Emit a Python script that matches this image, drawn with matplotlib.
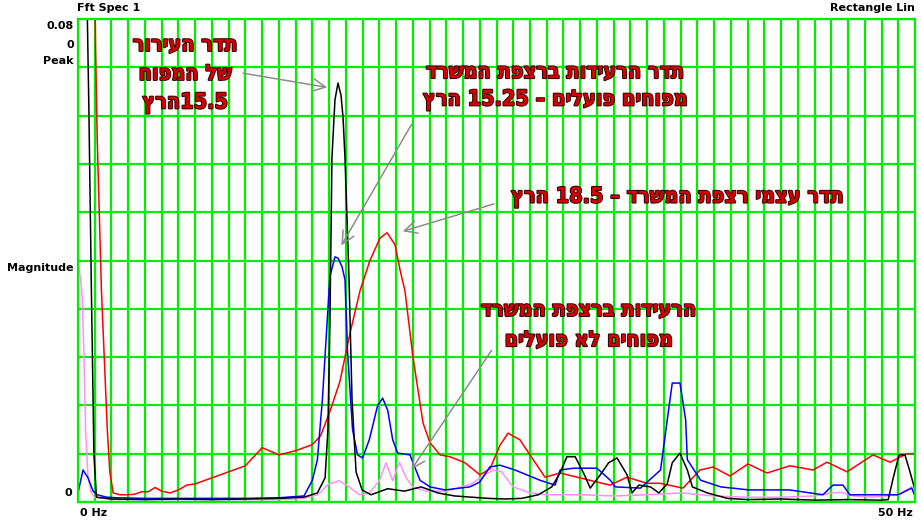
import re
import matplotlib
matplotlib.use("Agg")
import matplotlib.pyplot as plt
import matplotlib.patheffects as pe

# --- data (frequency in Hz, magnitude) ---
black_f = [0, 0.3, 0.5, 0.65, 0.8, 0.95, 1.1, 2, 4, 6, 8, 10, 12, 13.5, 14.3, 14.76, 14.93, 15.05,
           15.17, 15.35, 15.53, 15.71, 15.83, 15.95, 16.07, 16.19, 16.37, 16.61, 16.97, 17.5, 18.5,
           19.5, 20.5, 21.5, 22.5, 23.5, 24.5, 25.5, 26.5, 27.5, 28.3, 28.8, 29.2, 29.7, 30.2, 30.6,
           31.2, 31.7, 32.2, 32.8, 33.1, 33.5, 34.2, 34.7, 35.2, 35.5, 35.96, 36.4, 36.7, 37.6, 38.8,
           40, 42, 44, 46, 48, 48.4, 48.7, 49.05, 49.4, 49.7, 50]
black_v = [0.12, 0.11, 0.09, 0.065, 0.035, 0.008, 0.0008, 0.0005, 0.0004, 0.0005, 0.0004, 0.0005,
           0.0006, 0.0008, 0.0015, 0.004, 0.012, 0.03, 0.057, 0.0666, 0.0694, 0.0674, 0.0638, 0.057,
           0.047, 0.037, 0.017, 0.005, 0.002, 0.0012, 0.0022, 0.0018, 0.0025, 0.0015, 0.001, 0.0008,
           0.0006, 0.0005, 0.0006, 0.0012, 0.0025, 0.0048, 0.0075, 0.0075, 0.0048, 0.0023, 0.0045,
           0.0065, 0.0073, 0.0045, 0.0015, 0.0028, 0.0025, 0.0015, 0.003, 0.0065, 0.0081, 0.0053,
           0.0025, 0.0015, 0.0006, 0.0004, 0.0005, 0.0003, 0.0004, 0.0003, 0.0004, 0.004, 0.0078,
           0.0078, 0.005, 0.002]

red_f = [0, 0.95, 1.05, 1.15, 1.4, 1.75, 1.9, 2.1, 2.5, 3.0, 3.4, 3.8, 4.2, 4.6, 5.0, 5.5, 6.0, 6.5,
         7.0, 8.0, 9.0, 10.0, 11.0, 12.0, 13.0, 14.0, 14.5, 15.05, 15.65, 16.25, 16.85, 17.44, 18.04,
         18.46, 18.94, 19.24, 19.53, 20.01, 20.61, 21.03, 21.63, 22.22, 23.12, 24.01, 24.61, 25.21,
         25.69, 26.4, 27.0, 27.9, 28.79, 29.99, 31.0, 31.78, 32.8, 33.99, 34.77, 36.14, 37.16, 37.93,
         38.95, 40.02, 41.16, 42.53, 43.91, 44.74, 45.94, 47.49, 48.51, 49.52, 50]
red_v = [0.12, 0.10, 0.075, 0.06, 0.035, 0.012, 0.005, 0.0015, 0.0012, 0.0012, 0.0013, 0.0017,
         0.0017, 0.0024, 0.0018, 0.0015, 0.002, 0.0028, 0.003, 0.004, 0.005, 0.006, 0.009, 0.0078,
         0.0085, 0.0095, 0.011, 0.015, 0.02, 0.028, 0.035, 0.040, 0.0437, 0.0446, 0.0426, 0.0384,
         0.035, 0.024, 0.0131, 0.0098, 0.0078, 0.0075, 0.0065, 0.0045, 0.0055, 0.0094, 0.0114,
         0.0103, 0.0078, 0.0041, 0.0048, 0.004, 0.0033, 0.0028, 0.0041, 0.0031, 0.0031, 0.0023,
         0.0053, 0.0058, 0.0043, 0.0063, 0.0048, 0.006, 0.0053, 0.0066, 0.005, 0.0078, 0.0066,
         0.008, 0.008]

blue_f = [0, 0.3, 0.6, 0.9, 1.15, 1.7, 2.3, 4, 6, 8, 10, 12, 13.5, 14.0, 14.3, 14.6, 15.05, 15.35,
          15.53, 15.77, 15.95, 16.1, 16.4, 16.7, 17.0, 17.4, 17.9, 18.2, 18.5, 18.8, 19.1, 19.83,
          20.43, 21.03, 21.92, 23.4, 24.0, 24.6, 25.2, 26.1, 27.6, 28.5, 28.8, 29.6, 30.6, 31.0,
          31.8, 32.1, 33.6, 34.8, 35.2, 35.5, 35.96, 36.3, 36.4, 37.2, 38.4, 40.1, 42.5, 44.5, 45.1,
          45.7, 46.1, 47.5, 49, 49.8, 50]
blue_v = [0.0015, 0.0053, 0.004, 0.0018, 0.0012, 0.0008, 0.0007, 0.0006, 0.0006, 0.0006, 0.0006,
          0.0007, 0.001, 0.0036, 0.007, 0.017, 0.0374, 0.0406, 0.0404, 0.039, 0.0368, 0.025, 0.012,
          0.0078, 0.0073, 0.0103, 0.016, 0.0172, 0.0152, 0.0103, 0.0081, 0.0078, 0.0036, 0.0025,
          0.002, 0.0025, 0.0033, 0.0058, 0.0061, 0.0053, 0.0036, 0.0028, 0.0053, 0.0056, 0.0056,
          0.0056, 0.0036, 0.0025, 0.0023, 0.0053, 0.0136, 0.0197, 0.0197, 0.0136, 0.007, 0.0036,
          0.0025, 0.002, 0.002, 0.0012, 0.0028, 0.0028, 0.0012, 0.0012, 0.0012, 0.0023, 0.001]

pink_f = [0, 0.15, 0.25, 0.35, 0.45, 0.6, 0.8, 1.0, 2, 4, 6, 8, 10, 12, 13.5, 14.3, 15.0, 15.6,
          16.2, 16.8, 17.4, 18.0, 18.4, 18.8, 19.2, 19.6, 20.0, 20.8, 22, 23.5, 24.3, 24.8, 25.3,
          26, 27, 28, 30, 32, 34, 36, 38, 40, 42, 44, 45, 45.6, 46.3, 47.5, 49, 49.8, 50]
pink_v = [0.04, 0.037, 0.034, 0.025, 0.012, 0.004, 0.0015, 0.0008, 0.0004, 0.0004, 0.0004, 0.0004,
          0.0004, 0.0004, 0.0006, 0.0012, 0.003, 0.0035, 0.0025, 0.0012, 0.0015, 0.0035, 0.0065,
          0.0035, 0.0066, 0.004, 0.0025, 0.0018, 0.0018, 0.003, 0.0045, 0.0053, 0.005, 0.0025,
          0.0015, 0.0012, 0.0012, 0.001, 0.0012, 0.0015, 0.001, 0.0008, 0.0008, 0.001, 0.0015,
          0.0016, 0.001, 0.0008, 0.0012, 0.0025, 0.0015]

note1 = ["תדר העירור", "של המפוח", "15.5הרץ"]
note2 = ["תדר הרעידות ברצפת המשרד", "מפוחים פועלים – 15.25 הרץ"]
note3 = ["תדר עצמי רצפת המשרד – 18.5 הרץ"]
note4 = ["הרעידות ברצפת המשרד", "מפוחים לא פועלים"]


def rtl(s):
    # crude bidi: reverse run order, reverse letters inside Hebrew runs
    runs = re.findall(r'[\u0590-\u05FF]+|[0-9.]+|[^\u0590-\u05FF0-9.]+', s)
    return ''.join(r[::-1] if re.match(r'[\u0590-\u05FF]', r) else r for r in reversed(runs))


W, H = 921, 521
fig = plt.figure(figsize=(W / 100, H / 100), dpi=100)
ax = fig.add_axes([78 / W, 1 - 502 / H, 837 / W, 483 / H])

ax.plot(pink_f, pink_v, color='#ff90ff', lw=1.1)
ax.plot(red_f, red_v, color='#ff0000', lw=1.1)
ax.plot(blue_f, blue_v, color='#0000ff', lw=1.1)
ax.plot(black_f, black_v, color='black', lw=1.1)

ax.set_xlim(0, 50)
ax.set_ylim(0, 0.08)
ax.set_xticks(range(0, 51))
ax.set_yticks([i * 0.008 for i in range(11)])
ax.tick_params(length=0, labelbottom=False, labelleft=False)
ax.grid(True, color='#00ee00', lw=1.6)
ax.set_axisbelow(True)
for sp in ax.spines.values():
    sp.set_color('#00ee00')
    sp.set_linewidth(1.6)

# axis captions
lab = dict(fontsize=8, fontweight='bold', color='black')
fig.text(74 / W, 1 - 26 / H, "0.08", ha='right', va='center', **lab)
fig.text(74 / W, 1 - 45 / H, "0", ha='right', va='center', **lab)
fig.text(74 / W, 1 - 61 / H, "Peak", ha='right', va='center', **lab)
fig.text(74 / W, 1 - 268 / H, "Magnitude", ha='right', va='center', **lab)
fig.text(72 / W, 1 - 493 / H, "0", ha='right', va='center', **lab)
fig.text(80 / W, 1 - 513 / H, "0 Hz", ha='left', va='center', **lab)
fig.text(913 / W, 1 - 513 / H, "50 Hz", ha='right', va='center', **lab)
fig.text(77 / W, 1 - 8 / H, "Fft Spec 1", ha='left', va='center', **lab)
fig.text(915 / W, 1 - 8 / H, "Rectangle Lin", ha='right', va='center', **lab)

txt = dict(fontsize=15.5, fontweight='bold', color='#d40000', family='DejaVu Sans',
           fontstretch='condensed', ha='center', va='center',
           path_effects=[pe.Stroke(linewidth=1.4, foreground='#300000'), pe.Normal()])
for i, line in enumerate(note1):
    ax.text(6.4, 0.0757 - i * 0.0048, rtl(line), **txt)
for i, line in enumerate(note2):
    ax.text(28.5, 0.0712 - i * 0.0046, rtl(line), **txt)
ax.text(35.8, 0.0505, rtl(note3[0]), **txt)
for i, line in enumerate(note4):
    ax.text(30.5, 0.0318 - i * 0.005, rtl(line), **txt)

arr = dict(arrowstyle='->,head_length=0.9,head_width=0.45', color='#8c8c8c', lw=1.1)
ax.annotate('', xy=(15.05, 0.0686), xytext=(9.7, 0.0711), arrowprops=arr)
ax.annotate('', xy=(15.65, 0.0421), xytext=(20.0, 0.0629), arrowprops=arr)
ax.annotate('', xy=(19.24, 0.0447), xytext=(25.0, 0.0495), arrowprops=arr)
ax.annotate('', xy=(19.83, 0.005), xytext=(24.8, 0.0255), arrowprops=arr)

fig.savefig("out.png", dpi=100)
